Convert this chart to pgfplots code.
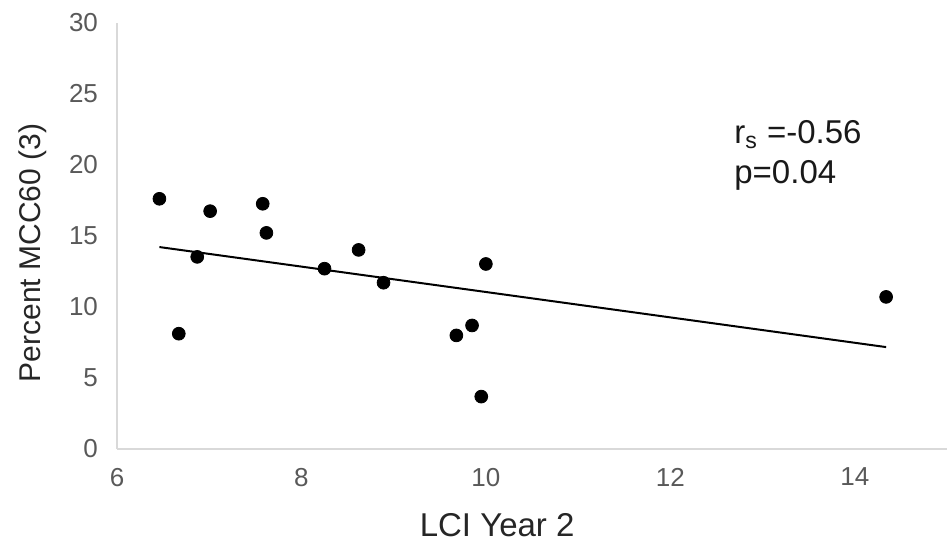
\documentclass[border=0pt]{standalone}
\usepackage{fontspec}
\setmainfont{Liberation Sans}
\usepackage{pgfplots}
\usepackage{pgfplotstable}
\pgfplotsset{compat=1.18}
\definecolor{axgray}{HTML}{D9D9D9}
\definecolor{tickgray}{HTML}{595959}

% LCI year 2 vs percent MCC60 (3)
\pgfplotstableread{
x y
6.46 17.62
7.01 16.75
7.58 17.27
7.62 15.22
6.87 13.53
8.25 12.70
8.62 14.02
8.89 11.71
6.67 8.12
10.00 13.03
9.85 8.70
9.68 8.00
9.95 3.69
14.34 10.71
}\lcidata

\begin{document}
\begin{tikzpicture}
\begin{axis}[
  scale only axis, width=415pt, height=213pt,
  xmin=6, xmax=15, ymin=0, ymax=30,
  xtick={6,8,...,14}, ytick={0,5,...,30},
  axis x line*=bottom, axis y line*=left,
  axis line style={axgray, line width=0.9pt, -},
  major tick length=0pt,
  /pgf/number format/assume math mode=true,
  tick label style={font=\fontsize{13}{15}\selectfont, text=tickgray},
  xticklabel style={yshift=-6pt}, yticklabel style={xshift=-6pt},
  xlabel={LCI Year 2}, ylabel={Percent MCC60 (3)},
  xlabel style={font=\fontsize{16.5}{19}\selectfont, text=black!85, at={(axis description cs:0.458,-0.178)}, anchor=center},
  ylabel style={font=\fontsize{15}{18}\selectfont, text=black!85, at={(axis description cs:-0.101,0.46)}, anchor=center},
  clip=false]
\addplot[black, line width=1pt, no marks] table[x=x, y={create col/linear regression={y=y}}] {\lcidata};
\addplot[only marks, mark=*, mark size=3.2pt, black] table[x=x, y=y] {\lcidata};
\node[anchor=north west, inner sep=0pt, align=left, font=\fontsize{16.5}{20}\selectfont, text=black!90]
  at (axis cs:12.69,23.2) {r\textsubscript{s} =-0.56\\p=0.04};
\end{axis}
\pgfresetboundingbox
\path (-58.5pt,-48.5pt) rectangle (416pt,224.5pt);
\end{tikzpicture}
\end{document}
